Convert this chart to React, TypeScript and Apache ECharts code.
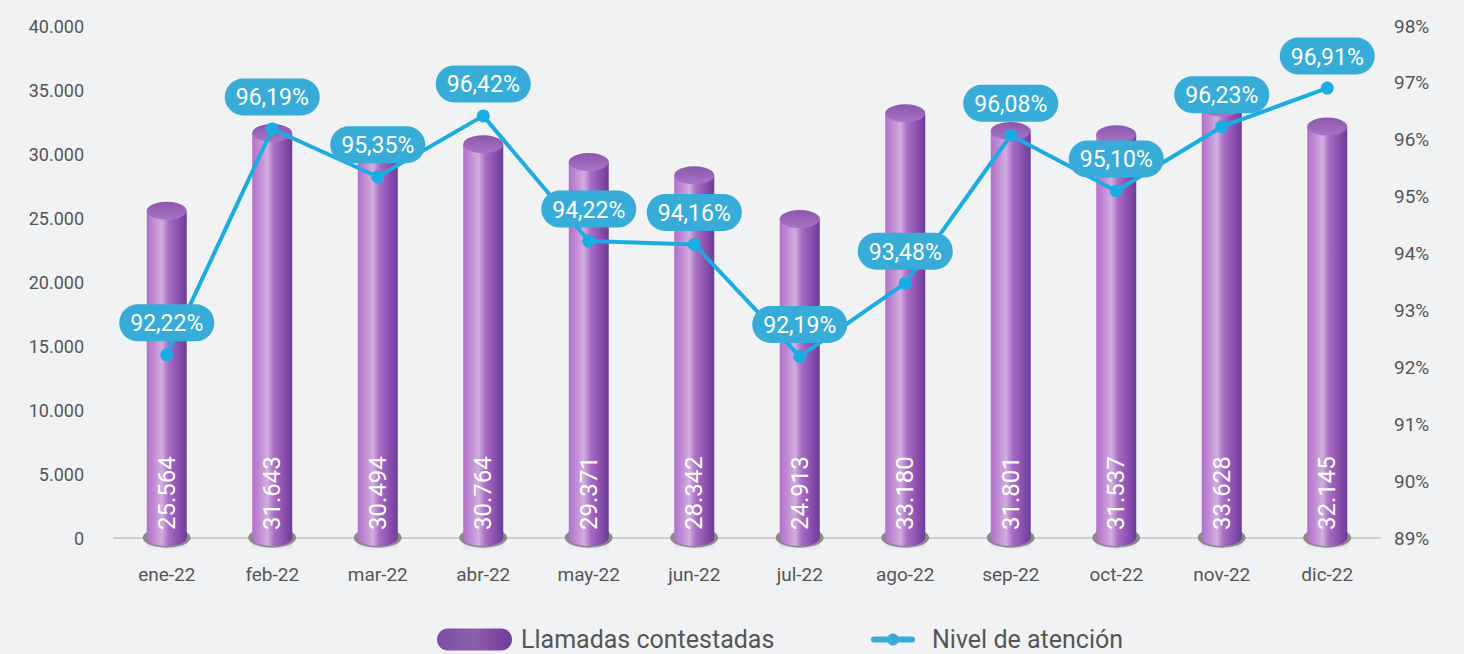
import React, { useEffect, useRef } from "react";
import * as echarts from "echarts";

const categories = ["ene-22", "feb-22", "mar-22", "abr-22", "may-22", "jun-22", "jul-22", "ago-22", "sep-22", "oct-22", "nov-22", "dic-22"];
const llamadas = [25564, 31643, 30494, 30764, 29371, 28342, 24913, 33180, 31801, 31537, 33628, 32145];
const nivel = [92.22, 96.19, 95.35, 96.42, 94.22, 94.16, 92.19, 93.48, 96.08, 95.10, 96.23, 96.91];

const fmtThousands = (v: number) => String(Math.round(v)).replace(/\B(?=(\d{3})+(?!\d))/g, ".");
const fmtPct = (v: number) => v.toFixed(2).replace(".", ",") + "%";

const barGradient = new echarts.graphic.LinearGradient(0, 0, 1, 0, [
  { offset: 0, color: "#b271c9" },
  { offset: 0.18, color: "#c08ad4" },
  { offset: 0.38, color: "#d1aee0" },
  { offset: 0.55, color: "#a86cc4" },
  { offset: 0.8, color: "#8a4fae" },
  { offset: 1, color: "#6c3c98" },
]);

export default function App() {
  const ref = useRef<HTMLDivElement>(null);
  useEffect(() => {
    const chart = echarts.init(ref.current!, null, { renderer: "svg" });
    const font = "Roboto";
    chart.setOption({
      animation: false,
      backgroundColor: "#f1f2f4",
      textStyle: { fontFamily: font },
      grid: { left: 114, right: 84, top: 26, bottom: 116 },
      legend: [
        {
          left: 432,
          top: 622,
          itemWidth: 75,
          itemHeight: 22,
          data: [
            {
              name: "Llamadas contestadas",
              icon: "path://M11,0 h53 a11,11 0 0,1 0,22 h-53 a11,11 0 0,1 0,-22 z",
              itemStyle: {
                color: new echarts.graphic.LinearGradient(0, 0, 1, 0, [
                  { offset: 0, color: "#7e4da6" },
                  { offset: 0.5, color: "#8e5eac" },
                  { offset: 1, color: "#6e3a9c" },
                ]),
              },
            },
          ],
          textStyle: { fontSize: 25, color: "#555", fontFamily: font, padding: [0, 0, 0, 4] },
        },
        {
          left: 866,
          top: 622,
          itemWidth: 44,
          itemHeight: 12,
          data: [
            {
              name: "Nivel de atención",
              icon: "path://M3,3 h38 a3,3 0 0,1 0,6 h-38 a3,3 0 0,1 0,-6 z M16,6 a6,6 0 1,1 12,0 a6,6 0 1,1 -12,0 z",
              itemStyle: { color: "#38acd9" },
            },
          ],
          textStyle: { fontSize: 25, color: "#555", fontFamily: font, padding: [0, 0, 0, 12] },
        },
      ],
      xAxis: {
        type: "category",
        data: categories,
        axisLine: { lineStyle: { color: "#cfcfcf", width: 2 } },
        axisTick: { inside: true, length: 6, lineStyle: { color: "#cfcfcf", width: 2 } },
        axisLabel: { color: "#555", fontSize: 19, margin: 27, fontFamily: font },
      },
      yAxis: [
        {
          type: "value",
          min: 0,
          max: 40000,
          interval: 5000,
          splitLine: { show: false },
          axisLine: { show: false },
          axisTick: { show: false },
          axisLabel: { color: "#555", fontSize: 18, margin: 30, formatter: (v: number) => fmtThousands(v), fontFamily: font },
        },
        {
          type: "value",
          min: 89,
          max: 98,
          interval: 1,
          splitLine: { show: false },
          axisLine: { show: false },
          axisTick: { show: false },
          axisLabel: { color: "#555", fontSize: 19, margin: 14, formatter: "{value}%", fontFamily: font },
        },
      ],
      series: [
        {
          name: "base",
          type: "pictorialBar",
          symbol: "circle",
          symbolSize: [48, 20],
          symbolPosition: "start",
          symbolOffset: [0, "50%"],
          barGap: "-100%",
          barWidth: 40,
          z: 1,
          silent: true,
          itemStyle: { color: "#8a8a8a", borderColor: "#b5b5b5", borderWidth: 1 },
          data: llamadas,
          legendHoverLink: false,
        },
        {
          name: "reflejo",
          type: "pictorialBar",
          symbol: "rect",
          symbolSize: [40, 16],
          symbolPosition: "start",
          symbolOffset: [0, "80%"],
          barGap: "-100%",
          barWidth: 40,
          z: 0,
          silent: true,
          itemStyle: {
            color: new echarts.graphic.LinearGradient(0, 0, 0, 1, [
              { offset: 0, color: "rgba(160,100,200,0.35)" },
              { offset: 1, color: "rgba(160,100,200,0)" },
            ]),
          },
          data: llamadas,
        },
        {
          name: "Llamadas contestadas",
          type: "bar",
          barWidth: 40,
          barGap: "-100%",
          z: 2,
          itemStyle: { color: barGradient },
          label: {
            show: true,
            position: "insideBottom",
            rotate: 90,
            align: "left",
            verticalAlign: "middle",
            distance: 8,
            color: "#fff",
            fontSize: 24,
            fontFamily: font,
            formatter: (p: any) => fmtThousands(p.value),
          },
          data: llamadas,
        },
        {
          name: "bottomcap",
          type: "pictorialBar",
          symbol: "circle",
          symbolSize: [40, 16],
          symbolPosition: "start",
          symbolOffset: [0, "50%"],
          barGap: "-100%",
          barWidth: 40,
          z: 1.5,
          silent: true,
          itemStyle: { color: barGradient },
          data: llamadas,
        },
        {
          name: "top",
          type: "pictorialBar",
          symbol: "circle",
          symbolSize: [40, 18],
          symbolPosition: "end",
          symbolOffset: [0, "-50%"],
          barGap: "-100%",
          barWidth: 40,
          z: 3,
          silent: true,
          itemStyle: {
            color: new echarts.graphic.LinearGradient(0, 0, 0, 1, [
              { offset: 0, color: "#8d55ad" },
              { offset: 1, color: "#a875c6" },
            ]),
          },
          data: llamadas,
        },
        {
          name: "Nivel de atención",
          type: "line",
          yAxisIndex: 1,
          z: 10,
          symbol: "circle",
          symbolSize: 13,
          color: "#1aace2",
          lineStyle: { width: 4, color: "#1aace2" },
          itemStyle: { color: "#1aace2" },
          label: {
            show: true,
            position: "top",
            distance: 7,
            color: "#fff",
            fontSize: 23,
            fontFamily: font,
            backgroundColor: "#38acd9",
            borderRadius: 19,
            padding: [8, 11, 6, 11],
            formatter: (p: any) => fmtPct(p.value),
          },
          data: nivel,
        },
      ],
    });
    return () => chart.dispose();
  }, []);
  return <div ref={ref} style={{ width: 1464, height: 654, position: "absolute", left: 0, top: 0 }} />;
}
